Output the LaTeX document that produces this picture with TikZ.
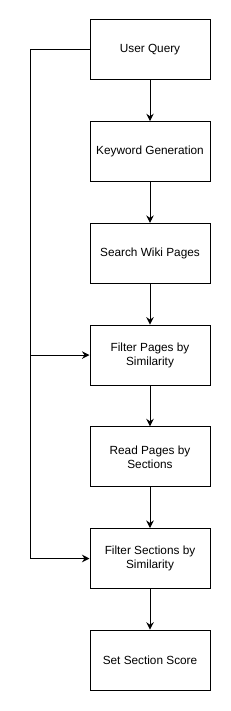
\documentclass[tikz,border=0pt]{standalone}
\usepackage{fontspec}
\setmainfont{Liberation Sans}
\usetikzlibrary{positioning, arrows.meta}

\begin{document}
\begin{tikzpicture}[x=1pt, y=1pt,
        stepbox/.style={draw, line width=1pt, minimum width=120pt, minimum height=60pt, align=center, font=\fontsize{11.8}{14}\selectfont},
        flow/.style={line width=1pt, -{Stealth[length=7.5pt, width=7.5pt, inset=2.5pt]}},
        node distance=40.7pt]
        \useasboundingbox (0, 0) rectangle (230, -711);
        % Nodes:
        \node[stepbox] (query) at (150, -50) {User Query};
        \node[stepbox, below=of query] (keyword) {Keyword Generation};
        \node[stepbox, below=of keyword] (search) {Search Wiki Pages};
        \node[stepbox, below=of search] (fpages) {Filter Pages by\\Similarity};
        \node[stepbox, below=of fpages] (read) {Read Pages by\\Sections};
        \node[stepbox, below=of read] (fsections) {Filter Sections by\\Similarity};
        \node[stepbox, below=of fsections] (score) {Set Section Score};
        % Wires:
        \draw[flow] (query) -- (keyword);
        \draw[flow] (keyword) -- (search);
        \draw[flow] (search) -- (fpages);
        \draw[flow] (fpages) -- (read);
        \draw[flow] (read) -- (fsections);
        \draw[flow] (fsections) -- (score);
        \coordinate (bend) at (30, -50);
        \draw[flow] (query.west) -- (bend) |- (fsections.west);
        \draw[flow] (bend |- fpages.west) -- (fpages.west);
    \end{tikzpicture}
\end{document}
